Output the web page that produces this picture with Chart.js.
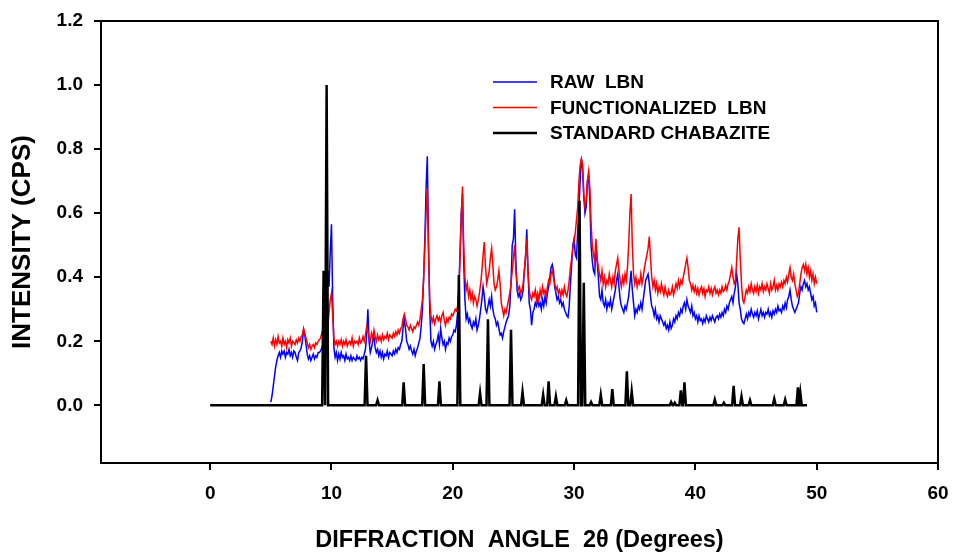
<!DOCTYPE html>
<html>
<head>
<meta charset="utf-8">
<script src="https://cdn.jsdelivr.net/npm/chart.js@4"></script>
<style>
  html, body { margin: 0; padding: 0; background: #fff; }
  #wrap { width: 953px; height: 556px; }
</style>
</head>
<body>
<div id="wrap"><canvas id="xrdChart" width="953" height="556"></canvas></div>
<script>
// scan grid of the two measured patterns (degrees 2θ)
const scanStart = 5.0;
const scanStep = 0.1;

// RAW LBN, one row per degree (5.0 ... 49.9, then 50.0)
const rawLbn = [
  0.01, 0.03, 0.06, 0.09, 0.12, 0.14, 0.155, 0.165, 0.15, 0.17,
  0.16, 0.17, 0.15, 0.165, 0.16, 0.175, 0.155, 0.165, 0.15, 0.17,
  0.165, 0.15, 0.14, 0.165, 0.17, 0.18, 0.2, 0.235, 0.22, 0.19,
  0.16, 0.145, 0.155, 0.14, 0.15, 0.16, 0.145, 0.155, 0.15, 0.165,
  0.165, 0.17, 0.18, 0.19, 0.22, 0.32, 0.36, 0.42, 0.37, 0.48,
  0.565, 0.33, 0.18, 0.15, 0.165, 0.14, 0.16, 0.145, 0.165, 0.15,
  0.155, 0.14, 0.16, 0.145, 0.15, 0.14, 0.155, 0.14, 0.15, 0.145,
  0.14, 0.155, 0.145, 0.15, 0.14, 0.15, 0.145, 0.16, 0.175, 0.22,
  0.3, 0.2, 0.165, 0.18, 0.2, 0.215, 0.18, 0.165, 0.175, 0.155,
  0.17, 0.15, 0.165, 0.145, 0.16, 0.155, 0.17, 0.15, 0.165, 0.16,
  0.155, 0.17, 0.16, 0.175, 0.165, 0.18, 0.175, 0.19, 0.2, 0.24,
  0.27, 0.24, 0.2, 0.19, 0.175, 0.185, 0.17, 0.16, 0.175, 0.155,
  0.17, 0.18, 0.195, 0.21, 0.25, 0.3, 0.4, 0.52, 0.68, 0.778,
  0.5, 0.3, 0.2, 0.185, 0.2, 0.175, 0.19, 0.2, 0.22, 0.19,
  0.24, 0.21, 0.19, 0.2, 0.175, 0.195, 0.19, 0.21, 0.2, 0.215,
  0.22, 0.235, 0.23, 0.25, 0.29, 0.36, 0.48, 0.6, 0.66, 0.45,
  0.33, 0.27, 0.285, 0.26, 0.27, 0.25, 0.24, 0.26, 0.25, 0.27,
  0.235, 0.25, 0.27, 0.3, 0.33, 0.37, 0.34, 0.3, 0.29, 0.31,
  0.33, 0.31, 0.34, 0.3, 0.28, 0.27, 0.25, 0.26, 0.24, 0.22,
  0.225, 0.21, 0.23, 0.245, 0.26, 0.27, 0.28, 0.31, 0.38, 0.5,
  0.52, 0.612, 0.45, 0.36, 0.34, 0.35, 0.33, 0.34, 0.36, 0.42,
  0.46, 0.55, 0.42, 0.32, 0.3, 0.25, 0.29, 0.3, 0.32, 0.31,
  0.33, 0.31, 0.32, 0.3, 0.33, 0.31, 0.34, 0.32, 0.35, 0.37,
  0.4, 0.43, 0.44, 0.42, 0.37, 0.35, 0.33, 0.34, 0.32, 0.33,
  0.31, 0.32, 0.3, 0.29, 0.28, 0.275, 0.31, 0.38, 0.44, 0.5,
  0.52, 0.47, 0.46, 0.55, 0.62, 0.7, 0.77, 0.74, 0.65, 0.6,
  0.62, 0.7, 0.72, 0.64, 0.5, 0.45, 0.42, 0.41, 0.5, 0.45,
  0.4, 0.34, 0.33, 0.36, 0.32, 0.31, 0.33, 0.3, 0.32, 0.31,
  0.33, 0.3, 0.32, 0.34, 0.36, 0.39, 0.41, 0.37, 0.33, 0.31,
  0.3, 0.29, 0.31, 0.3, 0.32, 0.34, 0.38, 0.42, 0.36, 0.32,
  0.28, 0.3, 0.29, 0.31, 0.3, 0.32, 0.3, 0.33, 0.36, 0.39,
  0.4, 0.41, 0.38, 0.34, 0.31, 0.3, 0.28, 0.3, 0.27, 0.28,
  0.26, 0.28, 0.27, 0.26, 0.25, 0.26, 0.24, 0.25, 0.235, 0.26,
  0.24, 0.25, 0.27, 0.26, 0.28, 0.27, 0.29, 0.28, 0.3, 0.29,
  0.31, 0.32, 0.3, 0.33, 0.31, 0.3, 0.29, 0.31, 0.28, 0.29,
  0.27, 0.28, 0.26, 0.28, 0.265, 0.27, 0.255, 0.27, 0.26, 0.28,
  0.27, 0.26, 0.275, 0.265, 0.28, 0.27, 0.26, 0.275, 0.28, 0.27,
  0.285, 0.275, 0.29, 0.28, 0.3, 0.29, 0.31, 0.3, 0.32, 0.33,
  0.34, 0.32, 0.35, 0.37, 0.41, 0.38, 0.32, 0.3, 0.27, 0.26,
  0.255, 0.27, 0.285, 0.27, 0.29, 0.28, 0.3, 0.285, 0.275, 0.29,
  0.28, 0.295, 0.27, 0.285, 0.3, 0.28, 0.29, 0.275, 0.29, 0.285,
  0.3, 0.28, 0.29, 0.275, 0.295, 0.285, 0.3, 0.29, 0.31, 0.295,
  0.3, 0.29, 0.31, 0.3, 0.32, 0.305, 0.33, 0.34, 0.36, 0.33,
  0.31, 0.3, 0.29, 0.3, 0.31, 0.32, 0.35, 0.37, 0.36, 0.38,
  0.39, 0.37, 0.38, 0.36, 0.37, 0.35, 0.33, 0.34, 0.31, 0.32,
  0.29
];

// FUNCTIONALIZED LBN, same grid
const funcLbn = [
  0.2, 0.19, 0.21, 0.185, 0.205, 0.19, 0.215, 0.195, 0.2, 0.185,
  0.21, 0.19, 0.2, 0.18, 0.205, 0.195, 0.21, 0.185, 0.2, 0.195,
  0.19, 0.205, 0.195, 0.21, 0.2, 0.215, 0.22, 0.24, 0.225, 0.21,
  0.195, 0.18, 0.19, 0.175, 0.185, 0.19, 0.18, 0.195, 0.19, 0.2,
  0.205, 0.21, 0.225, 0.215, 0.23, 0.25, 0.27, 0.25, 0.29, 0.33,
  0.35, 0.28, 0.21, 0.19, 0.2, 0.185, 0.2, 0.19, 0.205, 0.185,
  0.2, 0.19, 0.205, 0.185, 0.195, 0.2, 0.19, 0.21, 0.185, 0.2,
  0.195, 0.2, 0.19, 0.21, 0.195, 0.2, 0.215, 0.2, 0.22, 0.245,
  0.23, 0.215, 0.2, 0.225, 0.21, 0.235, 0.215, 0.2, 0.22, 0.205,
  0.215, 0.2, 0.22, 0.205, 0.215, 0.21, 0.225, 0.205, 0.22, 0.215,
  0.21, 0.225, 0.215, 0.23, 0.22, 0.235, 0.225, 0.24, 0.245, 0.27,
  0.285, 0.27, 0.25, 0.245, 0.235, 0.25, 0.24, 0.23, 0.245, 0.24,
  0.25, 0.26, 0.25, 0.27, 0.3, 0.33, 0.4, 0.5, 0.6, 0.678,
  0.48, 0.33, 0.28, 0.26, 0.275, 0.255, 0.27, 0.28, 0.265, 0.275,
  0.26, 0.28, 0.29, 0.265, 0.25, 0.27, 0.26, 0.275, 0.27, 0.285,
  0.28, 0.29, 0.3, 0.295, 0.31, 0.36, 0.46, 0.59, 0.683, 0.5,
  0.4, 0.36, 0.38, 0.34, 0.36, 0.33, 0.35, 0.32, 0.34, 0.33,
  0.31, 0.33, 0.35, 0.38, 0.42, 0.47, 0.51, 0.43, 0.38, 0.4,
  0.42, 0.46, 0.49, 0.44, 0.38, 0.36, 0.37, 0.39, 0.42, 0.38,
  0.32, 0.3, 0.28, 0.3, 0.29, 0.31, 0.33, 0.35, 0.38, 0.42,
  0.46, 0.5, 0.42, 0.38, 0.36, 0.37, 0.35, 0.36, 0.38, 0.42,
  0.47, 0.52, 0.42, 0.36, 0.34, 0.33, 0.35, 0.34, 0.36, 0.33,
  0.35, 0.33, 0.36, 0.34, 0.37, 0.35, 0.36, 0.34, 0.37, 0.39,
  0.38, 0.41, 0.42, 0.4, 0.38, 0.36, 0.37, 0.35, 0.36, 0.34,
  0.36, 0.345, 0.37, 0.35, 0.34, 0.36, 0.39, 0.43, 0.46, 0.49,
  0.51, 0.54, 0.58, 0.62, 0.7, 0.75, 0.77, 0.75, 0.66, 0.62,
  0.64, 0.7, 0.73, 0.68, 0.57, 0.5, 0.47, 0.45, 0.52, 0.46,
  0.43, 0.41, 0.39, 0.42, 0.38, 0.4, 0.37, 0.39, 0.38, 0.41,
  0.39, 0.37, 0.4, 0.38, 0.42, 0.44, 0.46, 0.42, 0.39, 0.37,
  0.4, 0.38, 0.41, 0.39, 0.43, 0.5, 0.6, 0.66, 0.5, 0.41,
  0.38, 0.4, 0.37, 0.39, 0.38, 0.41, 0.38, 0.4, 0.43, 0.45,
  0.47, 0.49, 0.527, 0.46, 0.4, 0.37, 0.39, 0.36, 0.38, 0.35,
  0.37, 0.355, 0.38, 0.36, 0.345, 0.37, 0.35, 0.34, 0.36, 0.345,
  0.35, 0.37, 0.345, 0.36, 0.38, 0.365, 0.39, 0.37, 0.39, 0.38,
  0.4, 0.42, 0.44, 0.46, 0.43, 0.39, 0.38, 0.36, 0.375, 0.355,
  0.37, 0.35, 0.365, 0.345, 0.36, 0.37, 0.35, 0.365, 0.34, 0.36,
  0.355, 0.37, 0.35, 0.365, 0.345, 0.36, 0.37, 0.35, 0.36, 0.345,
  0.36, 0.35, 0.37, 0.355, 0.36, 0.375, 0.36, 0.38, 0.39, 0.41,
  0.43, 0.4, 0.38, 0.39, 0.45, 0.52, 0.556, 0.46, 0.38, 0.33,
  0.32, 0.34, 0.36, 0.35, 0.37, 0.355, 0.38, 0.36, 0.35, 0.37,
  0.355, 0.375, 0.35, 0.37, 0.36, 0.38, 0.355, 0.37, 0.36, 0.38,
  0.365, 0.35, 0.38, 0.36, 0.37, 0.39, 0.36, 0.375, 0.36, 0.38,
  0.37, 0.385, 0.37, 0.39, 0.38, 0.4, 0.385, 0.41, 0.43, 0.4,
  0.39, 0.41, 0.38, 0.36, 0.34, 0.35, 0.38, 0.41, 0.43, 0.44,
  0.42, 0.44, 0.41, 0.43, 0.4, 0.42, 0.39, 0.41, 0.38, 0.4,
  0.38
];

// standard chabazite stick pattern: peak positions and relative heights
const chabStart = 0;
const chabEnd = 49.2;
const chabPeakAngles = [
  9.35, 9.6, 12.85, 13.8, 15.95, 17.6, 18.9, 20.5, 22.25, 22.9,
  24.8, 25.75, 27.45, 27.9, 28.5, 29.35, 30.45, 30.8, 31.4, 32.2,
  33.15, 34.35, 34.75, 38.0, 38.3, 38.8, 39.1, 41.6, 42.35, 43.15,
  43.8, 44.5, 46.5, 47.4, 48.45, 48.65
];
const chabPeakHeights = [
  0.42, 1.0, 0.155, 0.016, 0.072, 0.129, 0.075, 0.407, 0.039, 0.269,
  0.236, 0.042, 0.033, 0.075, 0.028, 0.016, 0.639, 0.383, 0.01, 0.033,
  0.051, 0.106, 0.044, 0.01, 0.008, 0.047, 0.072, 0.018, 0.008, 0.061,
  0.028, 0.016, 0.02, 0.018, 0.056, 0.04
];

const seriesLabels = ["RAW  LBN", "FUNCTIONALIZED  LBN", "STANDARD CHABAZITE"];
const xTickValues = [0, 10, 20, 30, 40, 50, 60];
const yTickValues = [0, 0.2, 0.4, 0.6, 0.8, 1.0, 1.2];

const FONT = "'Liberation Sans', Arial, Helvetica, sans-serif";
const peakHalfWidth = 0.12;

function scanPoints(vals) {
  return vals.map((v, i) => ({ x: +(scanStart + i * scanStep).toFixed(2), y: v }));
}

function stickPoints() {
  const pts = [{ x: chabStart, y: 0 }];
  chabPeakAngles.forEach((a, i) => {
    pts.push({ x: a - peakHalfWidth, y: 0 });
    pts.push({ x: a, y: chabPeakHeights[i] });
    pts.push({ x: a + peakHalfWidth, y: 0 });
  });
  pts.push({ x: chabEnd, y: 0 });
  return pts;
}

// box around the plot area
const frame = {
  id: "frame",
  afterDatasetsDraw(chart) {
    const { ctx, chartArea: a } = chart;
    ctx.save();
    ctx.strokeStyle = "#000";
    ctx.lineWidth = 2;
    ctx.strokeRect(a.left, a.top, a.right - a.left, a.bottom - a.top);
    ctx.restore();
  },
};

// legend sits inside the plot, upper middle
const insideLegend = {
  id: "insideLegend",
  afterDraw(chart) {
    const { ctx, chartArea: a } = chart;
    const x0 = a.left + 392;
    const y0 = a.top + 61;
    ctx.save();
    ctx.font = "bold 19px " + FONT;
    ctx.textBaseline = "middle";
    ctx.fillStyle = "#000";
    chart.data.datasets.forEach((ds, i) => {
      const y = y0 + i * 25.5;
      ctx.strokeStyle = ds.borderColor;
      ctx.lineWidth = i === 2 ? 2.5 : 1.5;
      ctx.beginPath();
      ctx.moveTo(x0, y);
      ctx.lineTo(x0 + 44, y);
      ctx.stroke();
      ctx.fillText(ds.label, x0 + 57, y + 1);
    });
    ctx.restore();
  },
};

const noEdgePadding = (s) => {
  s.paddingLeft = 0;
  s.paddingRight = 0;
  s.paddingTop = 0;
  s.paddingBottom = 0;
};

const ctx = document.getElementById("xrdChart").getContext("2d");
const xrdChart = new Chart(ctx, {
  type: "line",
  data: {
    datasets: [
      {
        label: seriesLabels[0],
        data: scanPoints(rawLbn),
        borderColor: "#0000ff",
        borderWidth: 1.5,
        order: 2,
      },
      {
        label: seriesLabels[1],
        data: scanPoints(funcLbn),
        borderColor: "#ff0000",
        borderWidth: 1.5,
        order: 1,
      },
      {
        label: seriesLabels[2],
        data: stickPoints(),
        borderColor: "#000000",
        borderWidth: 2.5,
        order: 0,
      },
    ],
  },
  options: {
    responsive: false,
    animation: false,
    devicePixelRatio: 1,
    layout: { padding: { top: 21, right: 15, bottom: 0, left: 0 } },
    elements: {
      point: { radius: 0 },
      line: { tension: 0, fill: false },
    },
    plugins: {
      legend: { display: false },
      tooltip: { enabled: false },
    },
    scales: {
      x: {
        type: "linear",
        min: -9,
        max: 60,
        afterBuildTicks: (s) => {
          s.ticks = xTickValues.map((v) => ({ value: v }));
        },
        afterFit: (s) => {
          s.height = 93;
          noEdgePadding(s);
        },
        ticks: {
          color: "#000",
          font: { family: FONT, size: 19, weight: "bold" },
          padding: 12,
          maxRotation: 0,
          callback: (v) => String(v),
        },
        grid: { drawOnChartArea: false, color: "#000", lineWidth: 2, tickLength: 7 },
        border: { display: false },
        title: {
          display: true,
          text: "DIFFRACTION  ANGLE  2θ (Degrees)",
          color: "#000",
          font: { family: FONT, size: 23.5, weight: "bold" },
          padding: { top: 0, bottom: 1 },
        },
      },
      y: {
        min: -0.18,
        max: 1.2,
        afterBuildTicks: (s) => {
          s.ticks = yTickValues.map((v) => ({ value: v }));
        },
        afterFit: (s) => {
          s.width = 101;
          noEdgePadding(s);
        },
        ticks: {
          color: "#000",
          font: { family: FONT, size: 19, weight: "bold" },
          padding: 11,
          callback: (v) => v.toFixed(1),
        },
        grid: { drawOnChartArea: false, color: "#000", lineWidth: 2, tickLength: 7 },
        border: { display: false },
        title: {
          display: true,
          text: "INTENSITY (CPS)",
          color: "#000",
          font: { family: FONT, size: 26, weight: "bold" },
          padding: { top: 7, bottom: 0 },
        },
      },
    },
  },
  plugins: [frame, insideLegend],
});
</script>
</body>
</html>
